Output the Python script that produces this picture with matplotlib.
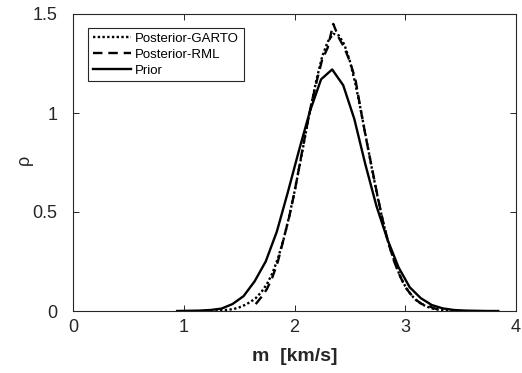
import matplotlib
matplotlib.use("Agg")
import matplotlib.pyplot as plt

# Prior
m_prior = [0.94, 1.04, 1.14, 1.24, 1.34, 1.44, 1.54, 1.64, 1.74, 1.84,
           1.94, 2.04, 2.14, 2.24, 2.34, 2.44, 2.54, 2.64, 2.74, 2.84,
           2.94, 3.04, 3.14, 3.24, 3.34, 3.44, 3.54, 3.64, 3.74, 3.84]
rho_prior = [0.000, 0.001, 0.002, 0.005, 0.012, 0.035, 0.075, 0.150, 0.250, 0.400,
             0.600, 0.810, 1.010, 1.170, 1.220, 1.140, 0.970, 0.740, 0.530, 0.360,
             0.220, 0.120, 0.065, 0.030, 0.013, 0.005, 0.002, 0.001, 0.000, 0.000]

# Posterior-GARTO
m_garto = [1.20, 1.25, 1.30, 1.35, 1.40, 1.45, 1.50, 1.55, 1.60, 1.65,
           1.70, 1.75, 1.80, 1.85, 1.90, 1.95, 2.00, 2.05, 2.10, 2.15,
           2.20, 2.25, 2.30, 2.35, 2.40, 2.45, 2.50, 2.55, 2.60, 2.65,
           2.70, 2.75, 2.80, 2.85, 2.90, 2.95, 3.00, 3.05, 3.10, 3.15,
           3.20, 3.25, 3.30, 3.35, 3.40, 3.45, 3.50, 3.55]
rho_garto = [0.000, 0.001, 0.002, 0.004, 0.006, 0.010, 0.018, 0.030, 0.045, 0.065,
             0.095, 0.135, 0.190, 0.265, 0.359, 0.473, 0.603, 0.745, 0.894, 1.039,
             1.172, 1.285, 1.360, 1.400, 1.392, 1.346, 1.262, 1.147, 1.011, 0.864,
             0.716, 0.576, 0.449, 0.339, 0.255, 0.180, 0.125, 0.083, 0.054, 0.034,
             0.021, 0.012, 0.007, 0.004, 0.002, 0.001, 0.000, 0.000]

# Posterior-RML
m_rml = [1.65, 1.70, 1.75, 1.80, 1.85, 1.90, 1.95, 2.00, 2.05, 2.10,
         2.15, 2.20, 2.25, 2.30, 2.35, 2.40, 2.45, 2.50, 2.55, 2.60,
         2.65, 2.70, 2.75, 2.80, 2.85, 2.90, 2.95, 3.00, 3.05, 3.10,
         3.15, 3.20, 3.25, 3.30]
rho_rml = [0.035, 0.070, 0.110, 0.170, 0.250, 0.360, 0.470, 0.600, 0.750, 0.900,
           1.040, 1.160, 1.270, 1.330, 1.450, 1.380, 1.330, 1.260, 1.170, 1.010,
           0.860, 0.720, 0.580, 0.450, 0.340, 0.250, 0.180, 0.120, 0.085, 0.055,
           0.035, 0.030, 0.015, 0.008]

x_ticks = [0, 1, 2, 3, 4]
y_ticks = [0, 0.5, 1, 1.5]
y_ticklabels = ["0", "0.5", "1", "1.5"]

plt.rcParams['font.family'] = ['Liberation Sans', 'DejaVu Sans']
fig = plt.figure(figsize=(5.22, 3.73), dpi=100)
ax = fig.add_axes([73/522, 62/373, 443/522, 297/373])

ax.plot(m_garto, rho_garto, linestyle=(0, (1, 1)), color='black', lw=1.7, label='Posterior-GARTO')
ax.plot(m_rml, rho_rml, linestyle=(0, (4, 2.5)), color='black', lw=1.7, label='Posterior-RML')
ax.plot(m_prior, rho_prior, linestyle='-', color='black', lw=1.7, label='Prior')

ax.set_xlim(0, 4)
ax.set_ylim(0, 1.5)
ax.set_xticks(x_ticks)
ax.set_yticks(y_ticks)
ax.set_yticklabels(y_ticklabels)
ax.tick_params(direction='in', length=4, width=0.7, top=True, right=True,
               labelsize=13, colors='#262626')
ax.tick_params(axis='y', pad=11)
ax.tick_params(axis='x', pad=6)
for s in ax.spines.values():
    s.set_color('#262626')
    s.set_linewidth(0.8)

ax.set_xlabel('m  [km/s]', fontsize=14, fontweight='bold', color='#262626', labelpad=8.5)
ax.set_ylabel('ρ', fontsize=13, color='#262626')
ax.yaxis.set_label_coords(-0.09, 0.508)

leg = ax.legend(loc='upper left', bbox_to_anchor=(0.02, 0.975), fontsize=9.5,
                handlelength=2.9, handletextpad=0.3, labelspacing=0.28,
                borderpad=0.35, fancybox=False, framealpha=1, edgecolor='#262626')
leg.get_frame().set_linewidth(0.8)

fig.savefig('out.png', dpi=100)
